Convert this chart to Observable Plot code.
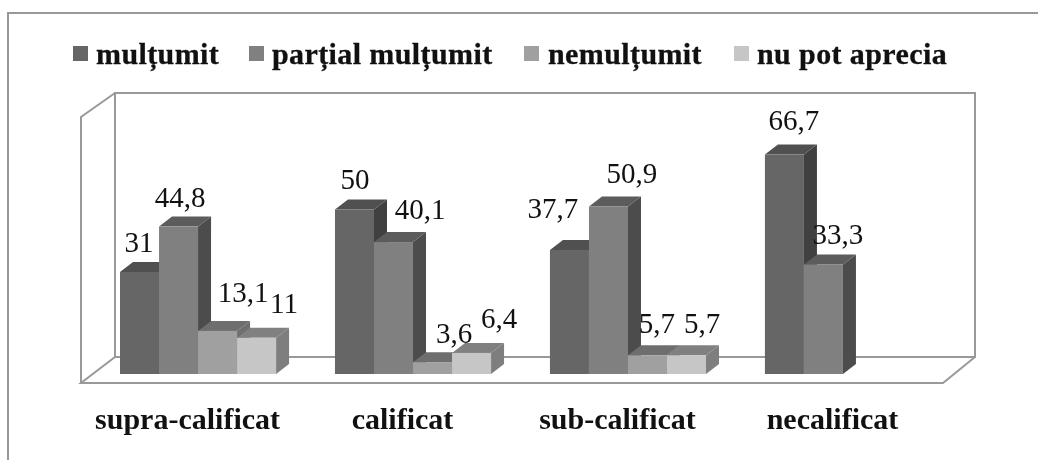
<!DOCTYPE html>
<html><head><meta charset="utf-8">
<script src="https://cdn.jsdelivr.net/npm/d3@7"></script>
<script src="https://cdn.jsdelivr.net/npm/@observablehq/plot@0.6"></script>
<style>
html,body{margin:0;padding:0;background:#fff;overflow:hidden}
#page{position:relative;width:1038px;height:460px;filter:blur(.45px);font-family:"Liberation Serif",serif;color:#111}
#border{position:absolute;left:7px;top:12px;right:-10px;bottom:-10px;border:2px solid #999;}
#legend{position:relative;height:78px;}
.item{position:absolute;top:0;font:bold 30px "Liberation Serif",serif;letter-spacing:.4px;line-height:1;white-space:nowrap;-webkit-text-stroke:.3px #111}
.sq{position:absolute;top:46px;width:15px;height:15px}
.lab{position:absolute;top:39px}
#chart{position:absolute;left:0;top:78px}
svg{background:transparent!important;display:block}
</style></head><body>
<div id="page"><div id="border"></div><div id="legend"></div><div id="chart"></div></div>
<script>
const groups = ["supra-calificat","calificat","sub-calificat","necalificat"];
const seriesNames = ["mulțumit","parțial mulțumit","nemulțumit","nu pot aprecia"];
const multumit = [31,50,37.7,66.7];
const partial = [44.8,40.1,50.9,33.3];
const nemultumit = [13.1,3.6,5.7,null];
const nuPot = [11,6.4,5.7,null];
const frontColors = ["#666666","#808080","#a0a0a0","#c6c6c6"];
const sideColors = ["#404040","#4c4c4c","#6e6e6e","#7e7e7e"];
const topColors = ["#505050","#5c5c5c","#6e6e6e","#808080"];
// label nudges (px), by group then series
const nudgeX = [[-1,1,25,27],[0,26,21,27],[-17,23,9,15],[9,14]];
const nudgeY = [[-20,-20,-29,-25],[-21,-24,-20,-25],[-32,-24,-23,-23],[-25,-21]];
const legendSquareX = [73,249,524,734];
const legendTextX = [96,272,548,757];

const cols = [multumit,partial,nemultumit,nuPot];
const rows = [];
groups.forEach((g,gi)=>seriesNames.forEach((s,si)=>{
  const v = cols[si][gi];
  if (v!=null) rows.push({group:g,series:s,value:v,gi,si});
}));

const legend = d3.select("#legend");
seriesNames.forEach((s,i)=>{
  legend.append("div").attr("class","sq").style("left",legendSquareX[i]+"px").style("background",frontColors[i]);
  legend.append("div").attr("class","item lab").style("left",legendTextX[i]+"px").text(s);
});

const DX=13, DY=10, H=382, yMax=85.4;
function faces(index,scales,values,dims,ctx,next){
  const g = next(index,scales,values,dims,ctx);
  const rects = g.querySelectorAll("rect");
  rects.forEach((r,k)=>{
    const d = rows[index[k]];
    const x=+r.getAttribute("x"),y=+r.getAttribute("y"),w=+r.getAttribute("width"),h=+r.getAttribute("height");
    const poly=(pts,fill)=>{
      const p=document.createElementNS("http://www.w3.org/2000/svg","polygon");
      p.setAttribute("points",pts.map(q=>q.join(",")).join(" "));
      p.setAttribute("fill",fill);
      r.parentNode.insertBefore(p,r);
    };
    poly([[x+w,y],[x+w+DX,y-DY],[x+w+DX,y+h-DY],[x+w,y+h]],sideColors[d.si]);
    poly([[x,y],[x+DX,y-DY],[x+w+DX,y-DY],[x+w,y]],topColors[d.si]);
  });
  return g;
}
function chartBox(index,scales,values,dims,ctx){
  const y0=scales.y(0), yT=scales.y(yMax);
  const L=dims.marginLeft-5, R=dims.width-63;
  const FL=L-34, FR=R-32, FY=y0+9, BY=y0-17;
  const path=d3.create("svg:path")
    .attr("fill","none").attr("stroke","#999").attr("stroke-width",2)
    .attr("d",`M${L},${BY}V${yT}H${R}V${BY}H${L}L${FL},${FY}H${FR}L${R},${BY}M${FL},${FY}V${yT+24}L${L},${yT}`);
  return path.node();
}
const labelMarks = rows.map(r=>Plot.text([r],{
  fx:"group",x:"series",y:"value",
  text:d=>String(d.value).replace(".",","),
  dx:nudgeX[r.gi][r.si],dy:nudgeY[r.gi][r.si],
  lineAnchor:"bottom",fontSize:29,fill:"#111",fontFamily:"Liberation Serif"
}));
const plot = Plot.plot({
  width:1038,height:H,
  marginLeft:120,marginRight:117,marginTop:15,marginBottom:86,
  style:{background:"transparent",fontFamily:"Liberation Serif"},
  fx:{domain:groups,paddingInner:.274,paddingOuter:0,align:0,label:null,round:false},
  x:{domain:seriesNames,padding:0,axis:null,round:false},
  y:{domain:[0,yMax],axis:null},
  color:{domain:seriesNames,range:frontColors},
  marks:[
    Plot.frame({facet:"super",render:chartBox}),
    Plot.axisFx({anchor:"bottom",tickSize:0,tickPadding:33,fontSize:30,fontWeight:"bold",dx:-11,label:null,
      fontFamily:"Liberation Serif",fill:"#111",style:"letter-spacing:.6px;stroke:#111;stroke-width:.3px"}),
    Plot.barY(rows,{fx:"group",x:"series",y:"value",fill:"series",render:faces}),
    ...labelMarks
  ]
});
document.getElementById("chart").appendChild(plot);
</script>
</body></html>
